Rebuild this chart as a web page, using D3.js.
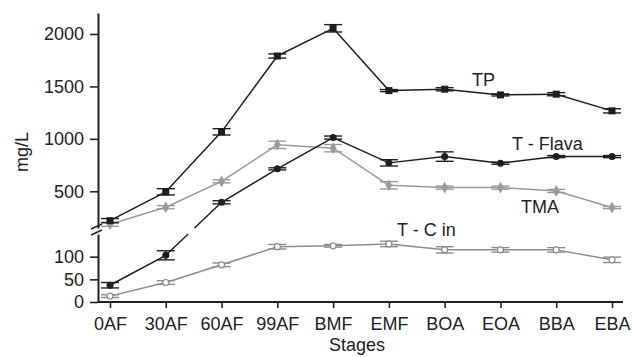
<!DOCTYPE html>
<html>
<head>
<meta charset="utf-8">
<script src="https://cdn.jsdelivr.net/npm/d3@7"></script>
<style>
  body { margin: 0; background: #fff; }
  svg { font-family: "Liberation Sans", Arial, sans-serif; }
</style>
</head>
<body>
<div id="chart"></div>
<script>
// data
var stages = ["0AF","30AF","60AF","99AF","BMF","EMF","BOA","EOA","BBA","EBA"];
var tp      = [220, 495, 1067, 1790, 2054, 1460, 1473, 1419, 1426, 1267];
var tpErr   = [20, 30, 30, 20, 35, 10, 15, 10, 15, 20];
var tflava  = [37, 103, 395, 714, 1012, 771, 831, 768, 831, 831];
var tflavaErr = [6, 10, 15, 10, 15, 30, 45, 10, 10, 10];
var tma     = [186, 348, 595, 943, 911, 557, 535, 535, 503, 345];
var tmaErr  = [20, 15, 15, 35, 35, 35, 15, 15, 15, 10];
var tcin    = [13, 43, 82, 122, 124, 128, 115, 115, 115, 93];
var tcinErr = [3, 4, 4, 5, 3, 6, 7, 5, 5, 6];
var upperTicks = [500, 1000, 1500, 2000];
var lowerTicks = [0, 50, 100];

var w = 632, h = 357;
var svg = d3.select("#chart").append("svg").attr("width", w).attr("height", h);

// scales (broken y axis)
var x = d3.scalePoint().domain(stages).range([110, 612]);
var yUp = d3.scaleLinear().domain([150, 2200]).range([228, 13]);
var yLo = d3.scaleLinear().domain([0, 150]).range([302, 234]);
var y = function(v) { return v > 150 ? yUp(v) : yLo(v); };

// axes
var axUp = svg.append("g").attr("transform", "translate(98,0)")
  .call(d3.axisLeft(yUp).tickValues(upperTicks).tickFormat(d3.format("d"))
    .tickSize(8).tickPadding(6).tickSizeOuter(0));
var axLo = svg.append("g").attr("transform", "translate(98,0)")
  .call(d3.axisLeft(yLo).tickValues(lowerTicks).tickFormat(d3.format("d"))
    .tickSize(8).tickPadding(6).tickSizeOuter(0));
var axX = svg.append("g").attr("transform", "translate(0,302)")
  .call(d3.axisBottom(x).tickSize(6).tickPadding(9).tickSizeOuter(0));
axX.select(".domain").attr("d", "M98,0H623");

[axUp, axLo, axX].forEach(function(a) {
  a.selectAll(".domain").attr("stroke", "#222").attr("stroke-width", 2);
  a.selectAll(".tick line").attr("stroke", "#222").attr("stroke-width", 1.6);
  a.selectAll("text").attr("fill", "#222").style("font-size", "18px");
});

// break marks
svg.append("line").attr("x1", 91).attr("y1", 229).attr("x2", 102).attr("y2", 224)
  .attr("stroke", "#222").attr("stroke-width", 1.5);
svg.append("line").attr("x1", 91).attr("y1", 235).attr("x2", 102).attr("y2", 230)
  .attr("stroke", "#222").attr("stroke-width", 1.5);

// series
var series = [
  {vals: tcin, err: tcinErr, color: "#8c8c8c", marker: "open"},
  {vals: tma, err: tmaErr, color: "#9a9a9a", marker: "diamond"},
  {vals: tflava, err: tflavaErr, color: "#1e1e1e", marker: "circle"},
  {vals: tp, err: tpErr, color: "#1e1e1e", marker: "square"}
];

series.forEach(function(s) {
  var pts = s.vals.map(function(v, i) { return [x(stages[i]), y(v), v]; });
  // line segments, with a gap where a segment crosses the axis break
  for (var i = 0; i < pts.length - 1; i++) {
    var a = pts[i], b = pts[i + 1];
    if ((a[2] > 150) === (b[2] > 150)) {
      svg.append("line").attr("x1", a[0]).attr("y1", a[1]).attr("x2", b[0]).attr("y2", b[1])
        .attr("stroke", s.color).attr("stroke-width", 1.5);
    } else {
      var lo = a[2] > 150 ? b : a, hi = a[2] > 150 ? a : b;
      var f1 = (lo[1] - 234) / (lo[1] - hi[1]), f2 = (lo[1] - 228) / (lo[1] - hi[1]);
      svg.append("line").attr("x1", lo[0]).attr("y1", lo[1])
        .attr("x2", lo[0] + (hi[0] - lo[0]) * f1).attr("y2", 234)
        .attr("stroke", s.color).attr("stroke-width", 1.5);
      svg.append("line").attr("x1", lo[0] + (hi[0] - lo[0]) * f2).attr("y1", 228)
        .attr("x2", hi[0]).attr("y2", hi[1])
        .attr("stroke", s.color).attr("stroke-width", 1.5);
    }
  }
  // error bars
  pts.forEach(function(p, i) {
    var v = s.vals[i], e = s.err[i];
    var y1 = y(v + e), y2 = y(v - e);
    var g = svg.append("g").attr("stroke", s.color).attr("stroke-width", 1.4);
    g.append("line").attr("x1", p[0]).attr("x2", p[0]).attr("y1", y1).attr("y2", y2);
    g.append("line").attr("x1", p[0] - 9).attr("x2", p[0] + 9).attr("y1", y1).attr("y2", y1);
    g.append("line").attr("x1", p[0] - 9).attr("x2", p[0] + 9).attr("y1", y2).attr("y2", y2);
  });
  // markers
  pts.forEach(function(p) {
    if (s.marker === "square") {
      svg.append("rect").attr("x", p[0] - 3.5).attr("y", p[1] - 3.5).attr("width", 7).attr("height", 7)
        .attr("fill", s.color);
    } else if (s.marker === "circle") {
      svg.append("circle").attr("cx", p[0]).attr("cy", p[1]).attr("r", 3.5).attr("fill", s.color);
    } else if (s.marker === "diamond") {
      svg.append("path").attr("d", d3.symbol().type(d3.symbolDiamond).size(40)())
        .attr("transform", "translate(" + p[0] + "," + p[1] + ")").attr("fill", s.color);
    } else {
      svg.append("circle").attr("cx", p[0]).attr("cy", p[1]).attr("r", 3)
        .attr("fill", "#fff").attr("stroke", s.color).attr("stroke-width", 1.2);
    }
  });
});

// series labels
var labels = [
  {t: "TP", x: 472, y: 86},
  {t: "T - Flava", x: 512, y: 150},
  {t: "TMA", x: 521, y: 213},
  {t: "T - C in", x: 397, y: 236}
];
labels.forEach(function(l) {
  svg.append("text").attr("x", l.x).attr("y", l.y).text(l.t)
    .style("font-size", "18px").attr("fill", "#222");
});

// axis titles
svg.append("text").attr("x", 357).attr("y", 351).attr("text-anchor", "middle")
  .text("Stages").style("font-size", "18px").attr("fill", "#222");
svg.append("text").attr("transform", "translate(28,152) rotate(-90)").attr("text-anchor", "middle")
  .text("mg/L").style("font-size", "18px").attr("fill", "#222");
</script>
</body>
</html>
